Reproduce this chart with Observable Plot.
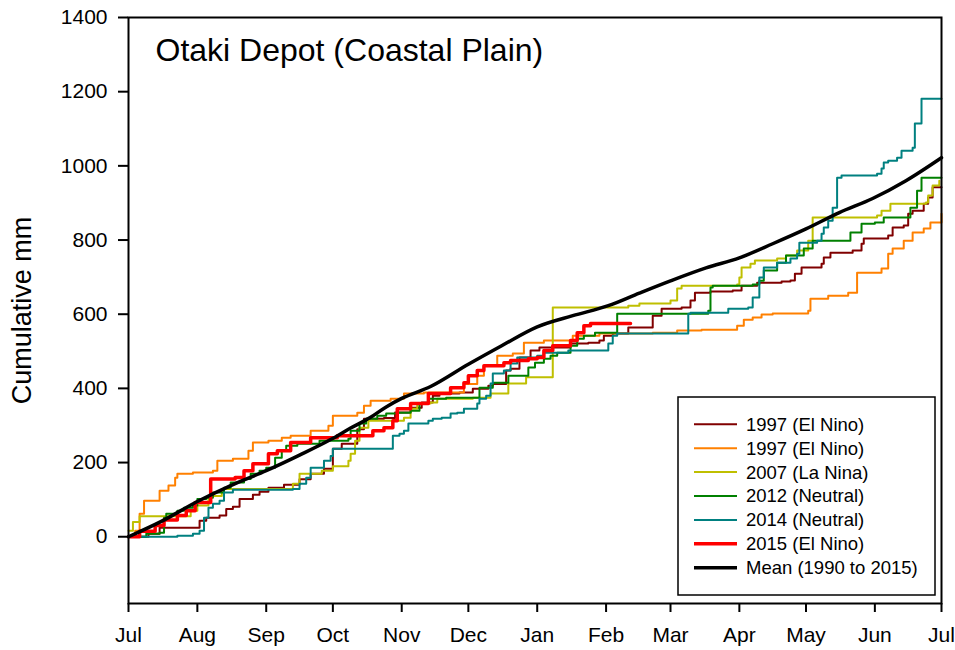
<!DOCTYPE html>
<html><head><meta charset="utf-8">
<script src="https://cdn.jsdelivr.net/npm/d3@7"></script>
<script src="https://cdn.jsdelivr.net/npm/@observablehq/plot@0.6"></script>
<style>
body{margin:0;background:#fff;}
#chart{width:955px;height:650px;}
</style></head><body><div id="chart"></div>
<script>
// ---- data (days since 1 July, cumulative mm) ----
const titleText = "Otaki Depot (Coastal Plain)";
const yLabelText = "Cumulative mm";
const monthNames = ["Jan","Feb","Mar","Apr","May","Jun","Jul","Aug","Sep","Oct","Nov","Dec"];
const yTicks = [0, 200, 400, 600, 800, 1000, 1200, 1400];

const legendLabels = ["1997 (El Nino)", "1997 (El Nino)", "2007 (La Nina)", "2012 (Neutral)", "2014 (Neutral)", "2015 (El Nino)", "Mean (1990 to 2015)"];
const seriesColors = ["#800000", "#FF8000", "#BFBF00", "#008000", "#008080", "#FF0000", "#000000"];
const seriesWidths = [2, 2, 2, 2, 2, 3.5, 3.5];

const s1997aDays = [0,9,14,32,35,41,44,47,50,56,59,63,70,77,82,88,92,96,103,106,115,120,127,132,137,140,149,155,162,164,170,172,176,181,185,199,207,212,214,218,225,236,240,249,253,255,262,272,276,283,294,298,300,303,312,313,316,326,330,331,342,344,349,351,353,358,360,362,366];
const s1997aMm   = [0,8,24,43,51,57,75,81,102,113,121,132,140,155,170,183,237,251,290,318,320,335,348,362,380,386,389,399,407,412,448,453,483,502,510,521,523,529,542,548,564,596,615,618,637,658,661,664,677,685,688,691,709,726,736,753,766,772,790,804,812,834,839,871,879,898,915,942,942];

const s1997bDays = [0,3,5,7,14,18,21,22,29,38,40,47,54,56,63,69,73,82,90,92,103,106,109,118,124,133,151,157,160,166,173,178,187,200,212,236,247,258,274,277,281,285,290,306,307,315,324,328,339,342,344,349,353,358,361,366];
const s1997bMm   = [0,16,62,97,124,138,159,170,173,178,205,210,232,254,259,267,272,286,299,326,334,353,367,372,386,389,412,434,461,488,494,523,529,542,548,550,556,558,569,585,591,599,602,609,642,650,658,712,723,763,777,798,820,831,847,871];

const s2007Days = [0,2,5,28,31,36,42,74,77,87,92,99,100,102,104,108,124,127,130,136,139,155,163,171,179,191,225,230,244,247,249,274,275,276,280,282,292,296,301,306,308,337,339,343,359,360,362,365];
const s2007Mm   = [16,40,55,70,84,110,129,143,170,178,190,205,224,259,294,313,321,345,359,362,372,375,386,413,430,618,623,629,637,669,677,680,699,726,736,745,750,758,772,798,861,866,879,898,901,920,947,960];

const s2012Days = [0,8,14,16,17,22,25,29,31,35,38,43,46,52,55,59,62,66,69,71,76,86,99,100,104,107,112,116,121,127,131,135,143,158,164,171,180,183,187,190,193,199,202,205,210,220,261,262,263,281,284,286,292,296,304,308,325,330,336,340,352,355,357,366];
const s2012Mm   = [0,8,11,51,62,70,78,84,102,105,119,132,146,156,170,178,186,213,232,245,251,259,264,286,305,318,326,332,334,340,359,372,375,402,415,434,456,469,480,488,496,515,534,542,550,601,609,672,677,680,690,718,739,758,777,798,820,844,847,861,887,933,968,968];

const s2014Days = [0,22,29,32,34,36,38,41,43,47,74,77,80,82,88,91,92,119,122,124,126,135,137,141,145,148,151,157,158,161,163,164,169,172,175,184,187,198,216,218,220,252,253,270,279,281,284,286,292,298,301,302,310,312,313,315,317,319,321,337,339,340,342,346,348,353,354,357,366];
const s2014Mm   = [0,3,8,16,51,78,89,97,119,127,129,143,159,186,205,218,237,272,278,286,305,313,318,321,332,334,345,359,372,380,413,440,448,467,483,488,496,502,521,542,548,601,604,615,618,645,699,726,739,750,763,793,798,817,834,852,887,968,974,979,993,1009,1014,1022,1041,1049,1114,1181,1181];

const s2015Days = [0,5,12,16,22,26,30,37,48,52,56,63,67,73,82,94,110,115,119,121,127,135,145,151,153,157,160,169,172,180,184,187,191,199,202,205,208,226];
const s2015Mm   = [0,15,30,45,57,70,92,156,160,178,197,224,232,254,267,272,286,294,313,345,359,386,402,415,434,448,461,469,475,480,483,502,515,529,550,569,575,575];

const meanDays = [0,15,31,46,62,77,91,100,109,116,123,136,153,168,184,200,216,230,244,260,275,290,305,320,335,350,366];
const meanMm   = [0,42,95,138,178,220,262,293,322,350,373,405,465,515,566,596,623,657,690,725,752,790,830,874,912,960,1022];

// ---- build tables ----
const start = Date.UTC(2015, 6, 1);
const toDate = d => new Date(start + d * 864e5);
const rows = (days, mm) => days.map((d, i) => ({date: toDate(d), mm: mm[i]}));
const stepSeries = [
  rows(s1997aDays, s1997aMm),
  rows(s1997bDays, s1997bMm),
  rows(s2007Days, s2007Mm),
  rows(s2012Days, s2012Mm),
  rows(s2014Days, s2014Mm),
  rows(s2015Days, s2015Mm)
];
const meanRows = rows(meanDays, meanMm);
const monthDates = d3.utcMonth.range(toDate(0), toDate(367));

const font = "'Liberation Sans', Arial, Helvetica, sans-serif";

const marks = [];
stepSeries.forEach((data, i) => {
  marks.push(Plot.line(data, {x: "date", y: "mm", curve: "step-after", stroke: seriesColors[i], strokeWidth: seriesWidths[i]}));
});
marks.push(Plot.line(meanRows, {x: "date", y: "mm", curve: "monotone-x", stroke: seriesColors[6], strokeWidth: seriesWidths[6]}));
marks.push(Plot.frame({stroke: "black", strokeWidth: 2}));
marks.push(Plot.axisX({ticks: monthDates, tickFormat: d => monthNames[d.getUTCMonth()], tickSize: 9, tickPadding: 15, strokeWidth: 2, fontSize: 21, label: null}));
marks.push(Plot.axisY({ticks: yTicks, tickFormat: d => String(d), tickSize: 10, tickPadding: 11, strokeWidth: 2, fontSize: 21, label: null}));
marks.push(Plot.text([titleText], {frameAnchor: "top-left", dx: 27, dy: 21, fontSize: 32, textAnchor: "start", lineAnchor: "top", fill: "black"}));
marks.push(Plot.text([yLabelText], {frameAnchor: "left", dx: -106, rotate: -90, fontSize: 27, textAnchor: "middle", fill: "black"}));

const chart = Plot.plot({
  width: 955, height: 650,
  marginLeft: 128, marginRight: 14, marginTop: 17, marginBottom: 47,
  style: {fontFamily: font, background: "white", color: "black", overflow: "visible"},
  x: {type: "utc", domain: [toDate(0), toDate(366)]},
  y: {domain: [-180, 1400]},
  marks
});
document.getElementById("chart").appendChild(chart);

// ---- legend (inside plot, lower right) ----
const svg = d3.select(chart);
const lg = svg.append("g").attr("font-family", font).attr("font-size", 18.5).attr("text-anchor", "start");
lg.append("rect").attr("x", 678).attr("y", 397).attr("width", 257).attr("height", 198)
  .attr("fill", "white").attr("stroke", "black").attr("stroke-width", 1.5);
legendLabels.forEach((lab, i) => {
  const y = 424.3 + i * 23.9;
  lg.append("line").attr("x1", 694).attr("x2", 737).attr("y1", y).attr("y2", y)
    .attr("stroke", seriesColors[i]).attr("stroke-width", seriesWidths[i]);
  lg.append("text").attr("x", 746).attr("y", y).attr("dy", "0.35em").attr("text-anchor", "start").attr("fill", "black").text(lab);
});
</script></body></html>
